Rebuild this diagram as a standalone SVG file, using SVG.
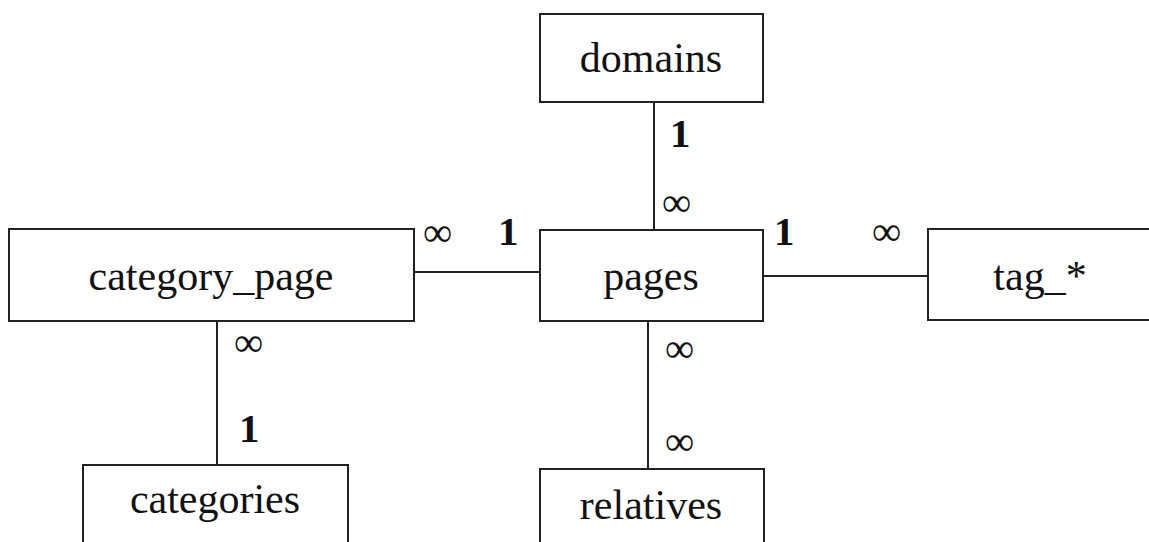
<svg xmlns="http://www.w3.org/2000/svg" width="1149" height="542" viewBox="0 0 1149 542">
<style>
.box{fill:#fff;stroke:#222;stroke-width:2}
.name{font-family:"Liberation Serif","Times New Roman",serif;font-size:42px;fill:#111;text-anchor:middle}
.lbl{font-family:"Liberation Serif","Times New Roman",serif;font-size:41px;fill:#111}
.one{font-weight:bold}
.edge{stroke:#222;stroke-width:2;fill:none}
</style>
<rect width="1149" height="542" fill="#fff"/>
<g id="connectors">
<line class="edge" x1="654" y1="102" x2="654" y2="230"/>
<line class="edge" x1="414" y1="272" x2="540" y2="272"/>
<line class="edge" x1="763" y1="276" x2="928" y2="276"/>
<line class="edge" x1="217" y1="321" x2="217" y2="465"/>
<line class="edge" x1="648" y1="321" x2="648" y2="469"/>
</g>
<g id="labels">
<text class="lbl one" x="670" y="147">1</text>
<text class="lbl" x="662" y="216">∞</text>
<text class="lbl" x="423" y="246">∞</text>
<text class="lbl one" x="498" y="245">1</text>
<text class="lbl one" x="774" y="245">1</text>
<text class="lbl" x="872" y="245">∞</text>
<text class="lbl" x="234" y="356">∞</text>
<text class="lbl one" x="239" y="442">1</text>
<text class="lbl" x="665" y="362">∞</text>
<text class="lbl" x="665" y="455">∞</text>
</g>
<g id="domains"><rect class="box" x="540" y="14" width="223" height="88"/><text class="name" x="651" y="72">domains</text></g>
<g id="category_page"><rect class="box" x="9" y="229" width="405" height="92"/><text class="name" x="211" y="290">category_page</text></g>
<g id="pages"><rect class="box" x="540" y="230" width="223" height="91"/><text class="name" x="651" y="290">pages</text></g>
<g id="tag"><rect class="box" x="928" y="229" width="260" height="91"/><text class="name" x="1040" y="290">tag_*</text></g>
<g id="categories"><rect class="box" x="83" y="465" width="265" height="120"/><text class="name" x="215" y="513">categories</text></g>
<g id="relatives"><rect class="box" x="540" y="469" width="224" height="120"/><text class="name" x="651" y="519">relatives</text></g>
</svg>
